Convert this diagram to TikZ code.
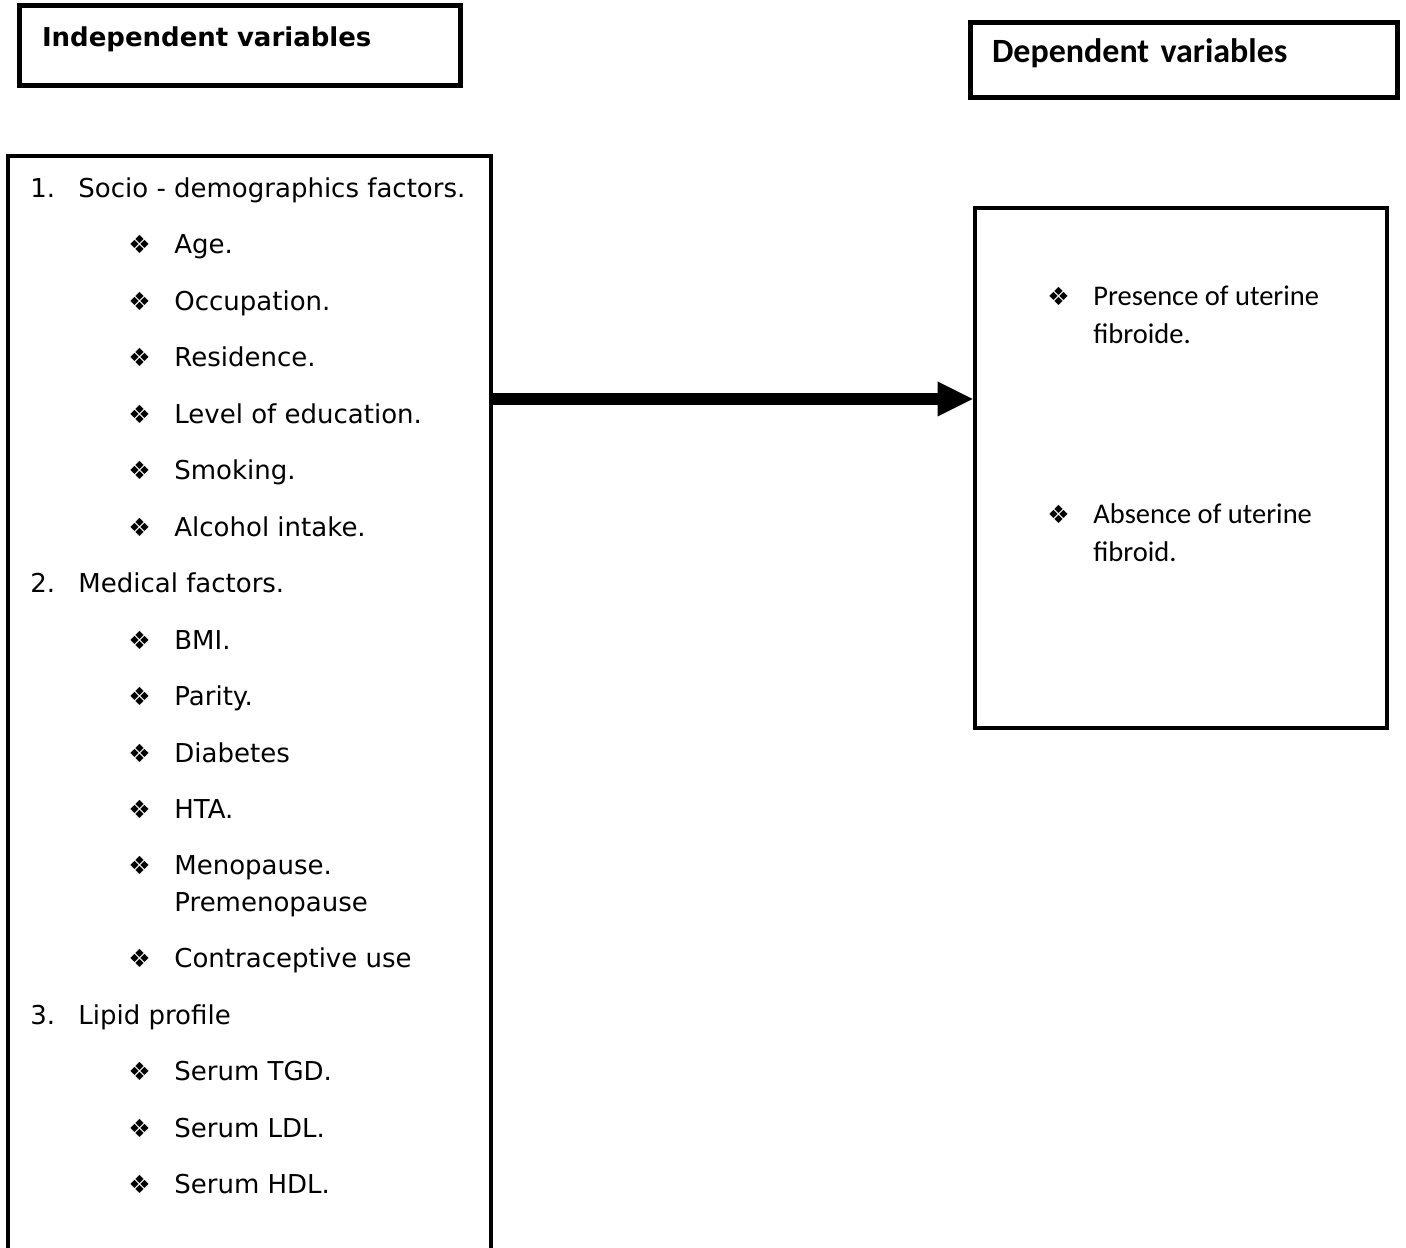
\documentclass[tikz,border=0pt]{standalone}
\usepackage{fontspec}
\setmainfont{DejaVu Sans}
\newfontfamily\dingfont{DejaVu Sans}
\newfontfamily\calibri{Carlito}
\usetikzlibrary{positioning,arrows.meta}
\tikzstyle{heading} = [draw, rectangle, line width=2.5pt, align=left]
\tikzstyle{frame} = [draw, rectangle, line width=2pt]
\tikzstyle{entry} = [anchor=base west, inner sep=0pt,
    font=\fontsize{13pt}{18.5pt}\selectfont]
\tikzstyle{flow} = [line width=6pt,
    -{Triangle[length=17.5pt,width=17.5pt,line width'=0pt]}]
\newcommand{\nr}[1]{\llap{\makebox[24pt][l]{#1}}}
\newcommand{\bul}{\llap{\makebox[23pt][l]{\dingfont\fontsize{12.5pt}{13pt}\selectfont ❖}}}

\begin{document}
\begin{tikzpicture}[x=0.5pt,y=-0.5pt]
    \useasboundingbox (0,0) rectangle (1406,1247);
    \clip (0,0) rectangle (1406,1247);
    % headings
    \node [heading, font=\bfseries\fontsize{13pt}{16pt}\selectfont, text width=198pt,
        inner xsep=11.25pt, minimum height=40pt, text height=10pt, text depth=8.5pt]
        (indep) at (240,45.5) {Independent variables};
    \node [heading, font=\calibri\bfseries\fontsize{17pt}{20pt}\selectfont, text width=192pt,
        inner xsep=10.75pt, minimum height=37.5pt, text height=10pt, text depth=7pt]
        (dep) at (1184,60) {Dependent variables};
    % boxes
    \node [frame, minimum width=241.25pt, minimum height=572.25pt] (factors) at (249.25,727.75) {};
    \node [frame, minimum width=206.25pt, minimum height=260.25pt] (outcome) at (1180.75,467.75) {};
    % independent variables
    \node [entry] (socio) at (78,197) {\nr{1.}Socio - demographics factors.};
    \node [below=28.25pt of socio.base west, entry, xshift=48pt] (age) {\bul Age.};
    \node [below=28.25pt of age.base west, entry] (occupation) {\bul Occupation.};
    \node [below=28.25pt of occupation.base west, entry] (residence) {\bul Residence.};
    \node [below=28.25pt of residence.base west, entry] (education) {\bul Level of education.};
    \node [below=28.25pt of education.base west, entry] (smoking) {\bul Smoking.};
    \node [below=28.25pt of smoking.base west, entry] (alcohol) {\bul Alcohol intake.};
    \node [below=28.25pt of alcohol.base west, entry, xshift=-48pt] (medical) {\nr{2.}Medical factors.};
    \node [below=28.25pt of medical.base west, entry, xshift=48pt] (bmi) {\bul BMI.};
    \node [below=28.25pt of bmi.base west, entry] (parity) {\bul Parity.};
    \node [below=28.25pt of parity.base west, entry] (diabetes) {\bul Diabetes};
    \node [below=28.25pt of diabetes.base west, entry] (hta) {\bul HTA.};
    \node [below=46.5pt of hta.base west, entry, align=left] (menopause) {\bul Menopause.\\Premenopause};
    \node [below=28pt of menopause.base west, entry] (contraceptive) {\bul Contraceptive use};
    \node [below=28.25pt of contraceptive.base west, entry, xshift=-48pt] (lipid) {\nr{3.}Lipid profile};
    \node [below=28.25pt of lipid.base west, entry, xshift=48pt] (tgd) {\bul Serum TGD.};
    \node [below=28.25pt of tgd.base west, entry] (ldl) {\bul Serum LDL.};
    \node [below=28.25pt of ldl.base west, entry] (hdl) {\bul Serum HDL.};
    % dependent variables
    \node [entry, align=left, font=\calibri\fontsize{14.25pt}{19pt}\selectfont]
        (presence) at (1093,343) {\bul Presence of uterine\\fibroide.};
    \node [entry, align=left, font=\calibri\fontsize{14.25pt}{19pt}\selectfont]
        (absence) at (1093,561) {\bul Absence of uterine\\fibroid.};
    % link
    \coordinate (level) at (700,399);
    \draw [flow] (factors.east |- level) -- (outcome.west |- level);
\end{tikzpicture}
\end{document}
